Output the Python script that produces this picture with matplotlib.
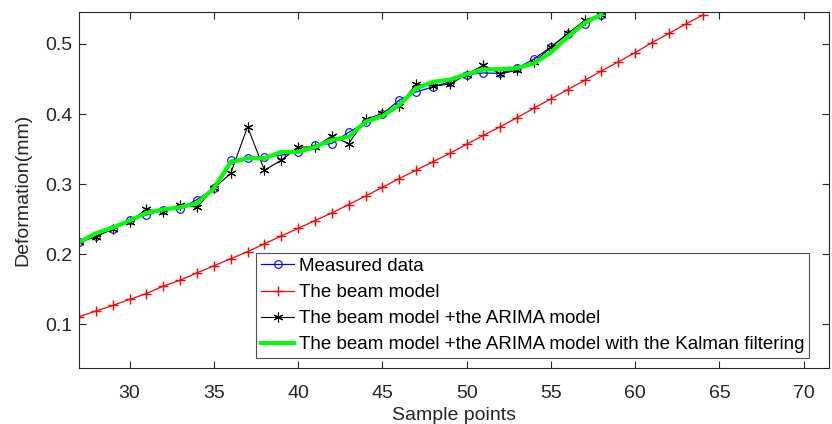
import matplotlib
matplotlib.use("Agg")
import matplotlib.pyplot as plt
import numpy as np

plt.rcParams['font.family'] = ['Liberation Sans', 'DejaVu Sans']

x_meas = list(range(27, 59))
measured = [0.217, 0.226, 0.2365, 0.249, 0.256, 0.263, 0.265, 0.278, 0.294, 0.334,
            0.337, 0.339, 0.3415, 0.346, 0.3557, 0.358, 0.374, 0.388, 0.400, 0.420,
            0.4316, 0.4387, 0.446, 0.4564, 0.4587, 0.458, 0.4655, 0.4785, 0.4957, 0.5148,
            0.528, 0.542]
arima = [0.217, 0.225, 0.236, 0.2465, 0.264, 0.2607, 0.271, 0.267, 0.294, 0.3154,
         0.3818, 0.320, 0.334, 0.353, 0.353, 0.3685, 0.358, 0.3923, 0.401, 0.4122,
         0.4426, 0.440, 0.4426, 0.4564, 0.4697, 0.4575, 0.4625, 0.4744, 0.495, 0.515,
         0.5335, 0.542]
kalman = [0.217, 0.230, 0.238, 0.248, 0.259, 0.264, 0.267, 0.2727, 0.294, 0.331,
          0.337, 0.337, 0.346, 0.346, 0.353, 0.363, 0.3675, 0.389, 0.397, 0.413,
          0.4365, 0.446, 0.449, 0.4567, 0.4635, 0.464, 0.4655, 0.4725, 0.4878, 0.510,
          0.530, 0.542]

x_beam = list(range(27, 65))
beam = [0.111, 0.119, 0.127, 0.1356, 0.144, 0.1546, 0.163, 0.1735, 0.1835, 0.1937,
        0.2037, 0.215, 0.226, 0.237, 0.248, 0.259, 0.271, 0.283, 0.2955, 0.308,
        0.320, 0.332, 0.344, 0.357, 0.3697, 0.382, 0.395, 0.4085, 0.4217, 0.435,
        0.448, 0.4617, 0.4745, 0.4877, 0.502, 0.515, 0.5285, 0.541]

labels = ["Measured data", "The beam model", "The beam model +the ARIMA model",
          "The beam model +the ARIMA model with the Kalman filtering"]

fig = plt.figure(figsize=(8.32, 4.24), dpi=100)
ax = fig.add_axes([79/832, 1-368/424, (829-79)/832, (368-12)/424])

ax.plot(x_meas, measured, color='#0000ff', lw=0.9, marker='o', ms=5.5, mfc='none', mew=0.8, label=labels[0])
ax.plot(x_beam, beam, color='#ff0000', lw=0.9, marker='+', ms=7, mew=1.0, label=labels[1])
ax.plot(x_meas, arima, color='#000000', lw=0.8, marker=(6, 2, 0), ms=7, mew=0.8, label=labels[2])
ax.plot(x_meas, kalman, color='#00ff00', lw=3.0, label=labels[3])

ax.set_xlim(27, 71.5)
ax.set_ylim(0.0378, 0.5456)
ax.set_xticks([30, 35, 40, 45, 50, 55, 60, 65, 70])
ax.set_yticks([0.1, 0.2, 0.3, 0.4, 0.5])
ax.set_yticklabels(['0.1', '0.2', '0.3', '0.4', '0.5'])
ax.tick_params(direction='in', top=True, right=True, length=5, width=0.8,
               labelsize=14, colors='#262626')
ax.tick_params(axis='x', pad=12)
ax.tick_params(axis='y', pad=5)
for s in ax.spines.values():
    s.set_color('#262626')
    s.set_linewidth(0.8)
ax.set_xlabel('Sample points', fontsize=14, color='#262626', labelpad=4)
ax.set_ylabel('Deformation(mm)', fontsize=14, color='#262626', labelpad=10)

leg = ax.legend(loc='lower left', bbox_to_anchor=((256-79)/750, (368-358)/356),
                fontsize=13.5, frameon=True, fancybox=False, edgecolor='#262626',
                handlelength=1.8, handletextpad=0.25, borderpad=0.25, labelspacing=0.48,
                borderaxespad=0)
leg.get_frame().set_linewidth(0.8)

fig.savefig('out.png', dpi=100)
